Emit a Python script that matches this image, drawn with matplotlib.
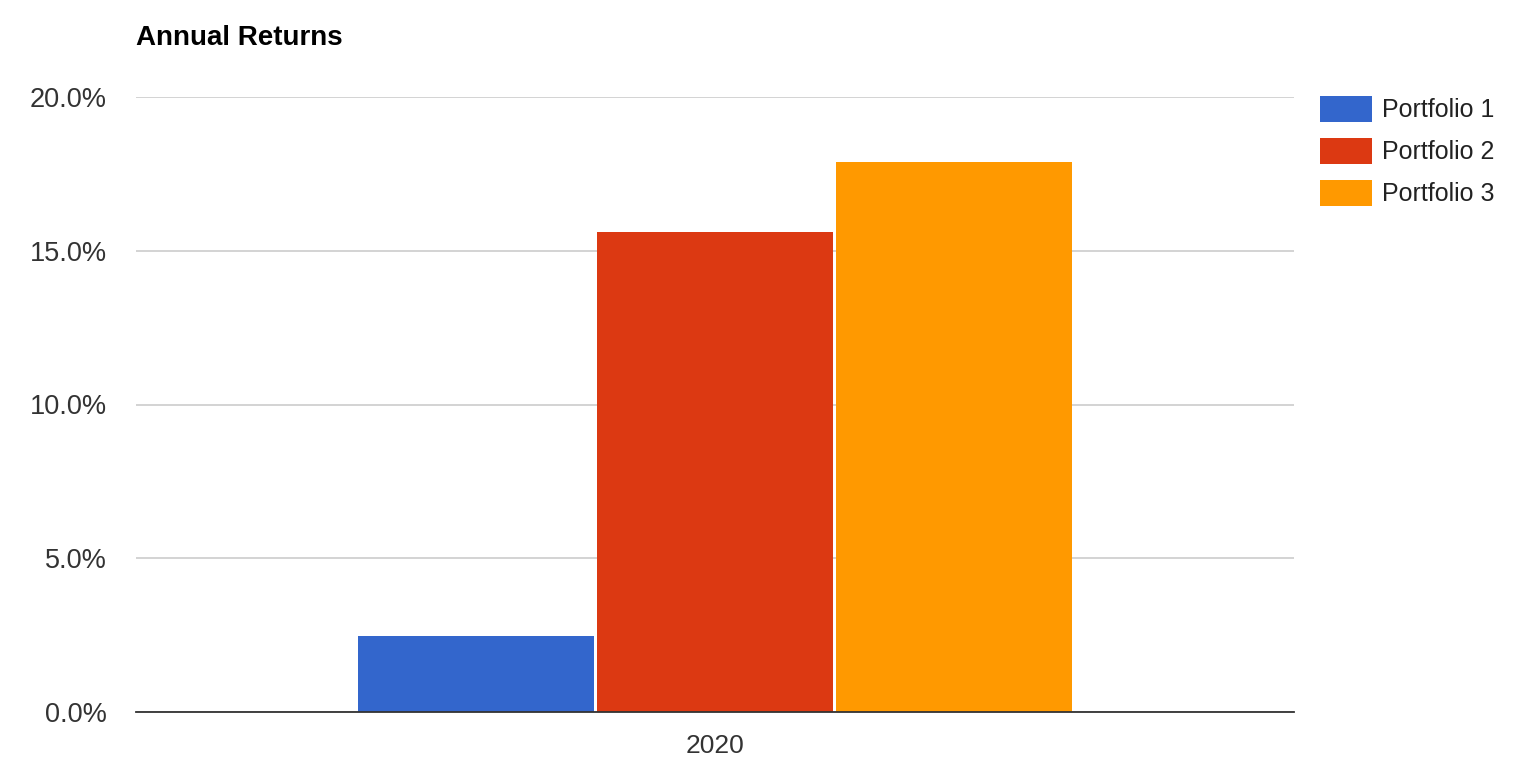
import matplotlib
matplotlib.use("Agg")
import matplotlib.pyplot as plt
import numpy as np
from matplotlib.ticker import FuncFormatter

plt.rcParams['font.family'] = ['Liberation Sans', 'DejaVu Sans']

categories = ["2020"]
series = ["Portfolio 1", "Portfolio 2", "Portfolio 3"]
values = [[2.47], [15.61], [17.89]]
colors = ["#3366cc", "#dc3912", "#ff9900"]
yticks = [0, 5, 10, 15, 20]

W, H = 1524, 762
fig = plt.figure(figsize=(W/100, H/100), dpi=100)
ax = fig.add_axes([136/W, (H-712)/H, (1294-136)/W, (712-97)/H])

x = np.arange(len(categories))
step = 0.2064
width = 0.2046
for i, (name, vals, c) in enumerate(zip(series, values, colors)):
    ax.bar(x + (i-1)*step, vals, width, color=c, label=name, linewidth=0, zorder=3)

ax.set_xlim(-0.5, len(categories)-0.5)
ax.set_ylim(0, 20)
ax.set_yticks(yticks)
ax.yaxis.set_major_formatter(FuncFormatter(lambda v, p: f"{v:.1f}%"))
ax.set_xticks(x)
ax.set_xticklabels(categories)
ax.grid(axis='y', color='#cccccc', linewidth=1.2, zorder=0)
ax.set_axisbelow(True)
for s in ['top', 'right', 'left']:
    ax.spines[s].set_visible(False)
ax.spines['bottom'].set_color('#333333')
ax.spines['bottom'].set_linewidth(1.3)
ax.spines['bottom'].set_zorder(4)
ax.tick_params(axis='y', length=0, labelsize=19.5, pad=21)
ax.tick_params(axis='x', length=0, labelsize=19, pad=16)
for t in ax.get_xticklabels() + ax.get_yticklabels():
    t.set_color('#333333')

fig.text(136/W, 1-38/H, "Annual Returns", fontsize=20, fontweight='bold', va='center', ha='left', color='black')

fs = 18
fpx = fs*100/72
leg = ax.legend(loc='upper left', bbox_to_anchor=(1320/W, 1-96/H), bbox_transform=fig.transFigure,
                frameon=False, fontsize=fs, handlelength=52/fpx, handleheight=1.223,
                labelspacing=0.62, handletextpad=10/fpx, borderpad=0, borderaxespad=0)
for t in leg.get_texts():
    t.set_color('#222222')

fig.savefig("out.png", dpi=100)
